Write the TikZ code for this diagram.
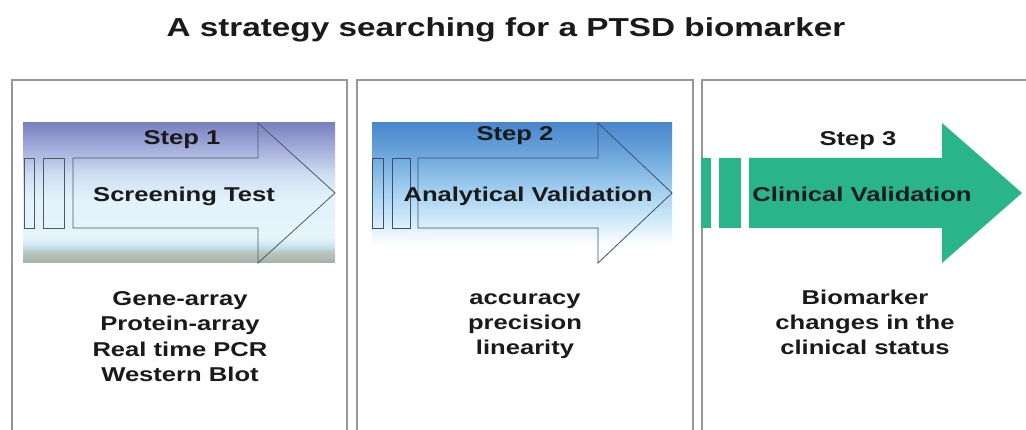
\documentclass[tikz,border=0pt]{standalone}
\usepackage{fontspec}
\setmainfont{Liberation Sans}
\newfontfamily\widesans[FakeStretch=1.28]{Liberation Sans}

% step colours
\definecolor{inkgray}{RGB}{26,26,26}
\definecolor{panelgray}{RGB}{150,150,150}
\definecolor{outlineA}{RGB}{80,88,96}
\definecolor{outlineB}{RGB}{58,80,112}
\definecolor{clinicgreen}{RGB}{42,180,138}

% band behind the first arrow (bottom to top)
\pgfdeclareverticalshading{bandone}{100bp}{%
  color(0bp)=(rgb,255:red,162;green,178;blue,168);
  color(25bp)=(rgb,255:red,162;green,178;blue,168);
  color(28.9bp)=(rgb,255:red,184;green,200;blue,192);
  color(31.1bp)=(rgb,255:red,200;green,228;blue,242);
  color(33.9bp)=(rgb,255:red,230;green,244;blue,251);
  color(47.5bp)=(rgb,255:red,227;green,243;blue,251);
  color(56.4bp)=(rgb,255:red,207;green,223;blue,243);
  color(65.4bp)=(rgb,255:red,168;green,176;blue,220);
  color(75bp)=(rgb,255:red,122;green,128;blue,192);
  color(100bp)=(rgb,255:red,122;green,128;blue,192)}

% band behind the second arrow (bottom to top)
\pgfdeclareverticalshading{bandtwo}{100bp}{%
  color(0bp)=(rgb,255:red,255;green,255;blue,255);
  color(25bp)=(rgb,255:red,255;green,255;blue,255);
  color(31.4bp)=(rgb,255:red,255;green,255;blue,255);
  color(38.6bp)=(rgb,255:red,216;green,238;blue,250);
  color(50.7bp)=(rgb,255:red,164;green,208;blue,240);
  color(63.2bp)=(rgb,255:red,110;green,168;blue,220);
  color(75bp)=(rgb,255:red,74;green,134;blue,204);
  color(100bp)=(rgb,255:red,74;green,134;blue,204)}

\begin{document}
\begin{tikzpicture}[x=1pt,y=-1pt,
  panel/.style={draw=panelgray,line width=1.4pt},
  outlineone/.style={draw=outlineA,line width=0.8pt},
  outlinetwo/.style={draw=outlineB,line width=0.8pt},
  solidarrow/.style={fill=clinicgreen,draw=none},
  titletext/.style={anchor=base,inner sep=0pt,text=inkgray,
    font=\widesans\bfseries\fontsize{26}{30}\selectfont},
  steptext/.style={anchor=base,inner sep=0pt,text=inkgray,
    font=\widesans\bfseries\fontsize{20}{24}\selectfont},
  phasetext/.style={anchor=base,inner sep=0pt,text=inkgray,
    font=\widesans\bfseries\fontsize{20}{24}\selectfont},
  listtext/.style={anchor=base,inner sep=0pt,text=inkgray,
    font=\widesans\bfseries\fontsize{20}{24}\selectfont}]

\useasboundingbox (0,0) rectangle (1026,430);
\fill[white] (0,0) rectangle (1026,430);

% title
\node[titletext] (title) at (506,37) {A strategy searching for a PTSD biomarker};

% three panels, open at the bottom
\draw[panel] (12,430) -- (12,80) -- (347,80) -- (347,430);
\draw[panel] (357,430) -- (357,80) -- (693,80) -- (693,430);
\draw[panel] (702,430) -- (702,80) -- (1026,80);

% step 1: shaded band with outlined arrow
\shade[shading=bandone] (23,123) rectangle (335,263);
\draw[outlineone] (24,158) rectangle (34,228);
\draw[outlineone] (43,158) rectangle (64,228);
\draw[outlineone] (73,158) -- (258,158) -- (258,123) -- (335,193)
  -- (258,263) -- (258,228) -- (73,228) -- cycle;

% step 2: shaded band with outlined arrow
\shade[shading=bandtwo] (372,123) rectangle (672,263);
\draw[outlinetwo] (372,158) rectangle (383,228);
\draw[outlinetwo] (392,158) rectangle (410,228);
\draw[outlinetwo] (418,158) -- (598,158) -- (598,123) -- (672,193)
  -- (598,263) -- (598,228) -- (418,228) -- cycle;

% step 3: solid arrow
\fill[solidarrow] (701,158) rectangle (711,228);
\fill[solidarrow] (719,158) rectangle (741,228);
\fill[solidarrow] (749,158) -- (942,158) -- (942,123) -- (1022,193)
  -- (942,263) -- (942,228) -- (749,228) -- cycle;

% step labels
\node[steptext] (s1) at (182,145) {Step 1};
\node[steptext] (s2) at (515,141) {Step 2};
\node[steptext] (s3) at (858,146) {Step 3};

\node[phasetext] (p1) at (184,202) {Screening Test};
\node[phasetext] (p2) at (528,202) {Analytical Validation};
\node[phasetext] (p3) at (862,202) {Clinical Validation};

% method lists
\node[listtext] (a1) at (180,306) {Gene-array};
\node[listtext] (a2) at (180,331) {Protein-array};
\node[listtext] (a3) at (180,357) {Real time PCR};
\node[listtext] (a4) at (180,382) {Western Blot};

\node[listtext] (b1) at (525,305) {accuracy};
\node[listtext] (b2) at (525,330) {precision};
\node[listtext] (b3) at (525,355) {linearity};

\node[listtext] (c1) at (865,305) {Biomarker};
\node[listtext] (c2) at (865,330) {changes in the};
\node[listtext] (c3) at (865,355) {clinical status};
\end{tikzpicture}
\end{document}
